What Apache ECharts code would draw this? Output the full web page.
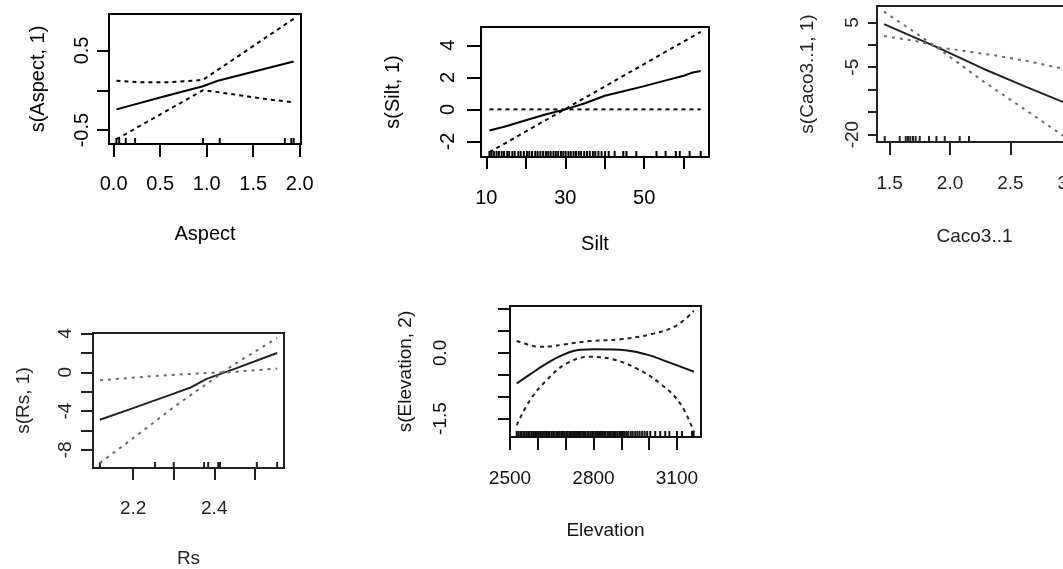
<!DOCTYPE html>
<html><head><meta charset="utf-8">
<script src="https://cdn.jsdelivr.net/npm/echarts@6/dist/echarts.min.js"></script>
<style>html,body{margin:0;padding:0;background:#fff}#c{width:1063px;height:569px}</style>
</head><body><div id="c"></div>
<script>
// ---------- Aspect ----------
const aspectFit   = [[0.03,-0.24],[0.5,-0.09],[0.96,0.05],[1.12,0.12],[1.935,0.36]];
const aspectUpper = [[0.03,0.12],[0.3,0.1],[0.6,0.1],[0.96,0.13],[1.935,0.897]];
const aspectLower = [[0.03,-0.614],[0.96,0.0],[1.1,-0.02],[1.46,-0.08],[1.7,-0.12],[1.935,-0.15]];
const aspectRug   = [0.03,0.06,0.13,0.23,0.96,1.14,1.84,1.91,1.935];
const aspectXTicks = [0,0.5,1,1.5,2];
const aspectYTicks = [-0.5,0,0.5];
const aspectYLabels = [-0.5,0.5];

// ---------- Silt ----------
const siltFit   = [[10.8,-1.32],[15,-1.05],[20,-0.68],[25,-0.32],[30,0.0],[35,0.38],[40,0.85],[45,1.15],[50,1.45],[55,1.78],[60,2.1],[62,2.28],[64.3,2.4]];
const siltUpper = [[10.8,0],[64.3,0]];
const siltLower = [[10.8,-2.67],[64.3,4.84]];
const siltRug   = [10.8,11.3,11.9,12.6,13.2,13.9,14.5,15.3,15.8,16.6,17.2,18.1,18.7,19.5,20.3,20.9,21.6,22.4,23.0,23.7,24.4,25.1,25.7,26.3,27.0,27.6,28.2,28.9,29.5,30.1,30.8,31.4,32.1,32.7,33.4,34.0,34.8,35.5,36.2,37.0,37.6,38.4,39.2,40.1,41.0,42.5,44.7,45.5,48.0,53.1,55.4,58.0,59.0,61.5,64.3];
const siltXTicks = [10,20,30,40,50,60];
const siltXLabels = [10,30,50];
const siltYTicks = [-2,0,2,4];

// ---------- Caco3..1 ----------
const cacoFit   = [[1.453,4.62],[1.914,-0.8],[2.27,-5.27],[2.63,-9.37],[2.95,-12.9]];
const cacoUpper = [[1.453,1.94],[1.75,0.67],[1.914,-0.6],[2.356,-2.3],[2.63,-3.57],[2.95,-5.4]];
const cacoLower = [[1.453,7.4],[1.914,-1.0],[2.246,-7.6],[2.63,-14.6],[2.95,-20.5]];
const cacoRug   = [1.459,1.583,1.633,1.652,1.671,1.693,1.715,1.749,1.826,1.887,1.956,2.08,2.157,2.95];
const cacoXTicks = [1.5,2.0,2.5,3.0];
const cacoYTicks = [5,0,-5,-10,-15,-20];
const cacoYLabels = [5,-5,-20];

// ---------- Rs ----------
const rsFit   = [[2.118,-4.9],[2.2,-3.7],[2.3,-2.2],[2.34,-1.6],[2.381,-0.68],[2.45,0.35],[2.555,2.0]];
const rsUpper = [[2.118,-0.82],[2.266,-0.34],[2.381,-0.07],[2.43,0.0],[2.555,0.38]];
const rsLower = [[2.118,-9.36],[2.2,-6.8],[2.3,-3.6],[2.34,-2.4],[2.381,-1.2],[2.45,0.85],[2.555,3.54]];
const rsRug   = [2.118,2.254,2.30,2.375,2.385,2.41,2.414,2.505,2.555];
const rsXTicks = [2.2,2.3,2.4,2.5];
const rsXLabels = [2.2,2.4];
const rsYTicks = [4,2,0,-2,-4,-6,-8];
const rsYLabels = [4,0,-4,-8];

// ---------- Elevation ----------
const elevFit   = [[2524,-0.70],[2572,-0.49],[2632,-0.24],[2692,-0.04],[2752,0.07],[2800,0.08],[2896,0.07],[2992,-0.04],[3064,-0.2],[3161,-0.43]];
const elevUpper = [[2524,0.27],[2570,0.18],[2608,0.14],[2650,0.15],[2692,0.19],[2788,0.27],[2896,0.31],[3016,0.44],[3100,0.63],[3161,0.96]];
const elevLower = [[2524,-1.65],[2572,-1.08],[2632,-0.62],[2704,-0.24],[2788,-0.09],[2872,-0.15],[2956,-0.36],[3040,-0.70],[3112,-1.16],[3161,-1.81]];
const elevRug   = [2524,2530,2537,2541,2548,2553,2560,2566,2571,2578,2583,2590,2596,2601,2608,2613,2619,2626,2631,2637,2642,2649,2655,2660,2667,2672,2678,2684,2690,2695,2702,2707,2713,2719,2725,2730,2737,2742,2748,2754,2760,2766,2771,2778,2783,2790,2796,2801,2808,2813,2820,2826,2831,2838,2843,2850,2856,2862,2868,2874,2880,2886,2893,2899,2906,2912,2919,2925,2934,2941,2950,2958,2966,2975,2984,2993,3004,3022,3040,3058,3073,3100,3118,3154,3160];
const elevXTicks = [2500,2600,2700,2800,2900,3000,3100];
const elevXLabels = [2500,2800,3100];
const elevYTicks = [1.0,0.5,0,-0.5,-1.0,-1.5];
const elevYLabels = [0,-1.5];

const FONT = 'Liberation Sans, Arial, sans-serif';
const f1 = v => v.toFixed(1);
const f0 = v => String(Math.round(v));

const panels = [
  {grid:{left:109,top:14,width:192,height:130}, xmin:-0.05,xmax:2.014,ymin:-0.674,ymax:0.957,
   xTicks:aspectXTicks,xLabels:aspectXTicks,yTicks:aspectYTicks,yLabels:aspectYLabels,xFmt:f1,yFmt:f1,
   xName:'Aspect',yName:'s(Aspect, 1)',xLM:30,xNG:80,yLM:17,yNG:61,xTL:13,yTL:12,
   fit:aspectFit,up:aspectUpper,lo:aspectLower,rug:aspectRug,col:'#000',ci:'#000',txt:'#000',fs:20,dash:[4,4],smooth:false},
  {grid:{left:481,top:27,width:228,height:130}, xmin:8.66,xmax:66.4,ymin:-2.97,ymax:5.14,
   xTicks:siltXTicks,xLabels:siltXLabels,yTicks:siltYTicks,yLabels:siltYTicks,xFmt:f0,yFmt:f0,
   xName:'Silt',yName:'s(Silt, 1)',xLM:31,xNG:77,yLM:23,yNG:78,xTL:12,yTL:14,
   fit:siltFit,up:siltUpper,lo:siltLower,rug:siltRug,col:'#000',ci:'#000',txt:'#000',fs:20,dash:[4,4],smooth:false},
  {grid:{left:877,top:6,width:195,height:136}, xmin:1.395,xmax:3.01,ymin:-21.65,ymax:8.64,
   xTicks:cacoXTicks,xLabels:cacoXTicks,yTicks:cacoYTicks,yLabels:cacoYLabels,xFmt:f1,yFmt:f0,
   xName:'Caco3..1',yName:'s(Caco3..1, 1)',xLM:32,xNG:85,yLM:15,yNG:60,xTL:13,yTL:9,
   fit:cacoFit,up:cacoUpper,lo:cacoLower,rug:cacoRug,col:'#222',ci:'#6a6a6a',txt:'#222',fs:19,dash:[3,5],smooth:false},
  {grid:{left:93,top:333,width:191,height:135}, xmin:2.101,xmax:2.572,ymin:-9.88,ymax:4.06,
   xTicks:rsXTicks,xLabels:rsXLabels,yTicks:rsYTicks,yLabels:rsYLabels,xFmt:f1,yFmt:f0,
   xName:'Rs',yName:'s(Rs, 1)',xLM:31,xNG:81,yLM:18,yNG:60,xTL:12,yTL:12,
   fit:rsFit,up:rsUpper,lo:rsLower,rug:rsRug,col:'#222',ci:'#6a6a6a',txt:'#222',fs:19,dash:[3,5],smooth:false},
  {grid:{left:510,top:306,width:191,height:131}, xmin:2500,xmax:3186.5,ymin:-1.92,ymax:1.07,
   xTicks:elevXTicks,xLabels:elevXLabels,yTicks:elevYTicks,yLabels:elevYLabels,xFmt:f0,yFmt:f1,
   xName:'Elevation',yName:'s(Elevation, 2)',xLM:32,xNG:84,yLM:60,yNG:95,xTL:13,yTL:12,
   fit:elevFit,up:elevUpper,lo:elevLower,rug:elevRug,col:'#111',ci:'#222',txt:'#111',fs:19,dash:[4,4],smooth:0.4}
];

const grids=[], xAxes=[], yAxes=[], series=[];
panels.forEach((p,i)=>{
  grids.push(Object.assign({show:true,borderColor:p.col,borderWidth:2,backgroundColor:'transparent',
    containLabel:false,outerBoundsMode:'none'},p.grid));
  const ts = {fontSize:p.fs,color:p.txt,fontFamily:FONT};
  xAxes.push({type:'value',gridIndex:i,min:p.xmin,max:p.xmax,name:p.xName,nameLocation:'middle',nameGap:p.xNG,
    nameTextStyle:ts,axisLine:{show:false,onZero:false},splitLine:{show:false},
    axisTick:{show:true,length:p.xTL,customValues:p.xTicks,lineStyle:{color:p.col,width:2}},
    axisLabel:Object.assign({customValues:p.xLabels,margin:p.xLM,formatter:v=>p.xFmt(v)},ts)});
  yAxes.push({type:'value',gridIndex:i,min:p.ymin,max:p.ymax,name:p.yName,nameLocation:'middle',nameGap:p.yNG,nameRotate:90,
    nameTextStyle:ts,axisLine:{show:false,onZero:false},splitLine:{show:false},
    axisTick:{show:true,length:p.yTL,customValues:p.yTicks,lineStyle:{color:p.col,width:2}},
    axisLabel:Object.assign({customValues:p.yLabels,margin:p.yLM,rotate:90,formatter:v=>p.yFmt(v)},ts)});
  const base = {type:'line',xAxisIndex:i,yAxisIndex:i,symbol:'none',showSymbol:false,silent:true,animation:false,smooth:p.smooth};
  series.push(Object.assign({},base,{data:p.fit,lineStyle:{color:p.col,width:2}}));
  series.push(Object.assign({},base,{data:p.up,lineStyle:{color:p.ci,width:2,type:p.dash}}));
  series.push(Object.assign({},base,{data:p.lo,lineStyle:{color:p.ci,width:2,type:p.dash}}));
  series.push({type:'custom',xAxisIndex:i,yAxisIndex:i,silent:true,animation:false,clip:false,
    data:p.rug.map(v=>[v,p.ymin]),
    renderItem:(params,api)=>{const c=api.coord([api.value(0),api.value(1)]);
      return {type:'line',shape:{x1:c[0],y1:c[1],x2:c[0],y2:c[1]-6},style:{stroke:p.col,lineWidth:2}};}});
});

const chart = echarts.init(document.getElementById('c'),null,{renderer:'canvas'});
chart.setOption({backgroundColor:'#fff',animation:false,grid:grids,xAxis:xAxes,yAxis:yAxes,series:series});
</script></body></html>
